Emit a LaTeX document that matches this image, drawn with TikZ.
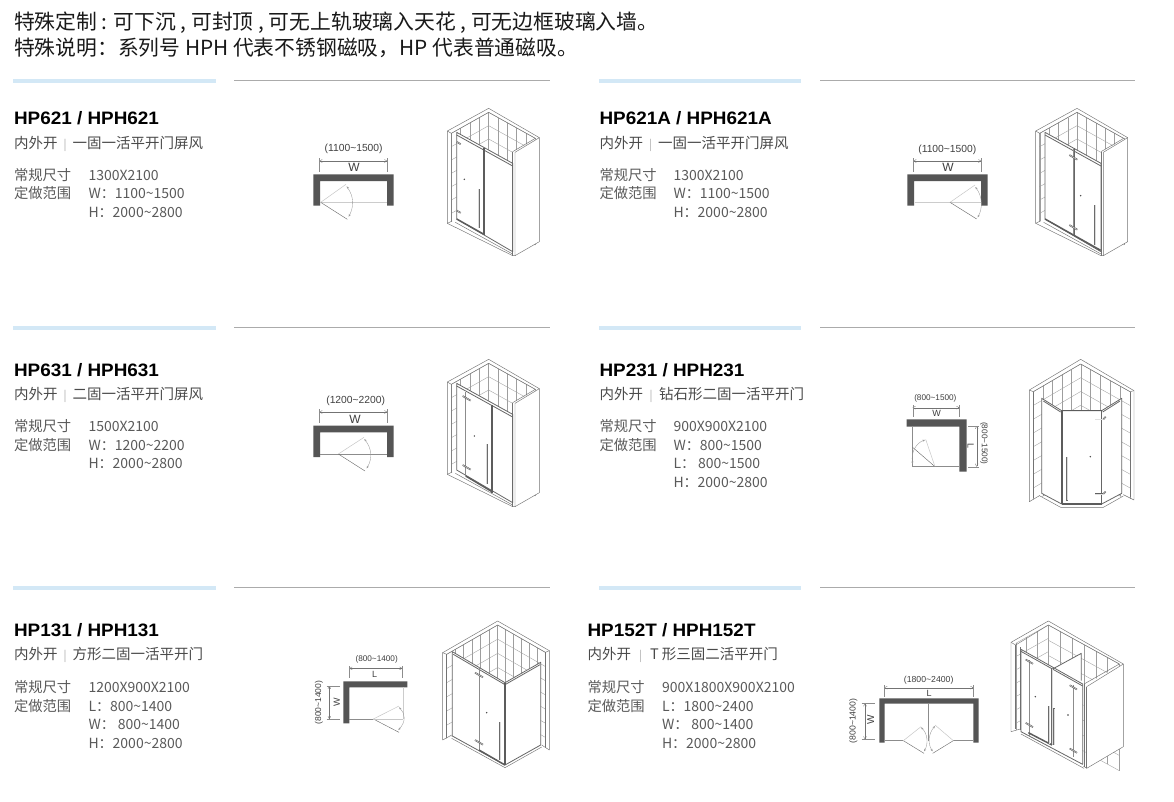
\documentclass[tikz,border=0pt]{standalone}
\usepackage{fontspec}
\usetikzlibrary{calc,arrows.meta}
\setmainfont{Noto Sans CJK SC}
\newfontfamily\latinfont{Liberation Sans}
\newfontfamily\titlefont[FakeStretch=1.05]{Liberation Sans}
\definecolor{barblue}{HTML}{D3E8F6}
\definecolor{rulegray}{HTML}{ABABAB}
\definecolor{wallc}{HTML}{555555}
\definecolor{speccol}{HTML}{5A5A5A}
\definecolor{subcol}{HTML}{4A4A4A}
\definecolor{sepcol}{HTML}{AAAAAA}
\newcommand{\tld}{\textasciitilde}
\tikzset{
 txt/.style={anchor=base west,inner sep=0pt,outer sep=0pt},
 headtxt/.style={txt,font=\fontsize{20.8}{21}\selectfont,text=black!90},
 titletxt/.style={txt,font=\titlefont\bfseries\fontsize{18}{18}\selectfont,text=black},
 subtxt/.style={txt,font=\fontsize{14.5}{14}\selectfont,text=subcol},
 spectxt/.style={txt,font=\fontsize{14.3}{14}\selectfont,text=speccol},
 valtxt/.style={txt,font=\fontsize{14}{14}\selectfont,text=speccol},
 dimtxt/.style={inner sep=0pt,font=\latinfont\fontsize{#1}{#1}\selectfont,text=black!75},
 bluebar/.style={draw=none,fill=barblue},
 grayrule/.style={draw=rulegray,line width=.8pt},
 plan/.style={draw=none,fill=wallc},
 dimln/.style={draw=black!55,line width=.35pt,{To[length=3pt,width=3.2pt]}-{To[length=3pt,width=3.2pt]}},
 tick/.style={draw=black!45,line width=.3pt},
 doorln/.style={draw=black!60,line width=.4pt},
 doorlt/.style={draw=black!22,line width=.5pt},
 glassln/.style={draw=black!20,line width=1pt},
 thinln/.style={draw=black!45,line width=.4pt},
 arcln/.style={draw=black!40,line width=.35pt,{Stealth[length=2.6pt,width=2pt]}-{Stealth[length=2.6pt,width=2pt]}},
 wl/.style={draw=black!55,line width=.45pt,line join=round},
 tl/.style={draw=black!38,line width=.35pt},
 fr/.style={draw=black!60,line width=.8pt,line join=round},
 fk/.style={draw=black!64,line width=1.5pt},
 hollowout/.style={draw=black!62,line width=1.6pt},
 hollowin/.style={draw=black!12,line width=.4pt},
 barout/.style={fill=black!58,draw=none},
 barin/.style={fill=black!14,draw=none},
 glassfill/.style={fill=white,draw=none},
 zoomed/.style={x=.33333pt,y=-.33333pt},
}
\newcommand{\tilegrid}[6]{%
 \foreach \i in {0,...,#5}{\pgfmathsetmacro\tf{\i/#5}\draw[tl] ($#1!\tf!#2$) -- ($#4!\tf!#3$);}%
 \foreach \j in {0,...,#6}{\pgfmathsetmacro\tf{\j/#6}\draw[tl] ($#1!\tf!#4$) -- ($#2!\tf!#3$);}%
}
\newcommand{\hollowseg}[2]{\draw[hollowout] #1 -- #2; \draw[hollowin] #1 -- #2;}
\newcommand{\hingeat}[3]{\hollowseg{($(#1,#2)+(-#3,-.58*#3)$)}{($(#1,#2)+(#3,.58*#3)$)}}
\newcommand{\knob}[2]{\fill[black!75] (#1,#2) circle (.8pt);}
\newcommand{\doorhandle}[3]{%
 \fill[barout] ($(#1,#2)+(-2.6,0)$) rectangle ($(#1,#3)+(2.6,0)$);
 \fill[barin] ($(#1,#2)+(-.7,1)$) rectangle ($(#1,#3)+(.7,-1)$);}
\newcommand{\sepbar}[1]{\makebox[#1pt]{\textcolor{sepcol}{\fontsize{11}{11}\selectfont|}}}
% flat screen room in the frame of the first crop
\newcommand{\screenshell}{%
 \tilegrid{(596,52)}{(484,115)}{(484,435)}{(596,372)}{4}{8}
 \tilegrid{(596,52)}{(736,130)}{(736,450)}{(596,372)}{5}{8}
 \fill[glassfill] (500,112) -- (668,205) -- (668,470) -- (500,372) -- cycle;
 \fill[glassfill] (668,170) -- (748,128) -- (748,440) -- (670,482) -- cycle;
 \fill[glassfill] (472,385) -- (484,380) -- (500,372) -- (668,470) -- (670,500) -- (472,500) -- cycle;
 \draw[wl] (472,108) -- (596,40) -- (748,128) -- (675,172);
 \draw[wl] (484,115) -- (596,52) -- (736,130) -- (668,170);
 \draw[wl] (472,108) -- (484,115) -- (484,380);
 \draw[wl] (472,108) -- (472,385) -- (486,378);
 \draw[wl] (668,170) -- (668,482);
 \draw[wl] (675,172) -- (675,482) -- (748,440) -- (748,128);
 \draw[wl] (472,385) -- (668,482) -- (675,482);
 \draw[wl] (496,382) -- (668,477);
 \draw[fr] (500,112) -- (668,205) -- (668,470) -- (500,372) -- cycle;
 \draw[fr] (500,120) -- (668,213);
}
\begin{document}
\begin{tikzpicture}[x=1pt,y=-1pt]
\useasboundingbox (0,0) rectangle (1174,801);
\fill[white] (0,0) rectangle (1174,801);
% header
\node[headtxt] (h1) at (14,29) {特殊定制 : 可下沉 , 可封顶 , 可无上轨玻璃入天花 , 可无边框玻璃入墙。};
\node[headtxt] (h2) at (14,55) {特殊说明：系列号 HPH 代表不锈钢磁吸，HP 代表普通磁吸。};
% rules
\foreach \xa/\xb/\xc/\xd/\ya in {13/216/234/550/81,599/801/820/1135/81,13/216/234/550/328,599/801/820/1135/328,13/216/234/550/588,599/801/820/1135/588}{
 \fill[bluebar] (\xa,\ya-1.8) rectangle (\xb,\ya+1.8);
 \draw[grayrule] (\xc,\ya-.6) -- (\xd,\ya-.6);
}
% ---------- texts
\node[titletxt] (t1) at (14,124) {HP621 / HPH621};
\node[subtxt] (s1) at (14,148) {内外开\sepbar{15}一固一活平开门屏风};
\node[spectxt] (a1) at (14,180) {常规尺寸};
\node[spectxt] (b1) at (14,198) {定做范围};
\node[valtxt] (c1) at (88.5,180) {1300X2100};
\node[valtxt] (d1) at (88.5,198) {W：1100\tld 1500};
\node[valtxt] (e1) at (88.5,217) {H：2000\tld 2800};

\node[titletxt] (t2) at (599.5,124) {HP621A / HPH621A};
\node[subtxt] (s2) at (599.5,148) {内外开\sepbar{15}一固一活平开门屏风};
\node[spectxt] (a2) at (599.5,180) {常规尺寸};
\node[spectxt] (b2) at (599.5,198) {定做范围};
\node[valtxt] (c2) at (673.5,180) {1300X2100};
\node[valtxt] (d2) at (673.5,198) {W：1100\tld 1500};
\node[valtxt] (e2) at (673.5,217) {H：2000\tld 2800};

\node[titletxt] (t3) at (14,376) {HP631 / HPH631};
\node[subtxt] (s3) at (14,399) {内外开\sepbar{15}二固一活平开门屏风};
\node[spectxt] (a3) at (14,431) {常规尺寸};
\node[spectxt] (b3) at (14,450) {定做范围};
\node[valtxt] (c3) at (88.5,431) {1500X2100};
\node[valtxt] (d3) at (88.5,450) {W：1200\tld 2200};
\node[valtxt] (e3) at (88.5,468) {H：2000\tld 2800};

\node[titletxt] (t4) at (599.5,376) {HP231 / HPH231};
\node[subtxt] (s4) at (599.5,399) {内外开\sepbar{16}钻石形二固一活平开门};
\node[spectxt] (a4) at (599.5,431) {常规尺寸};
\node[spectxt] (b4) at (599.5,450) {定做范围};
\node[valtxt] (c4) at (673.5,431) {900X900X2100};
\node[valtxt] (d4) at (673.5,450) {W：800\tld 1500};
\node[valtxt] (e4) at (673.5,468) {L：\hspace{3pt}800\tld 1500};
\node[valtxt] (f4) at (673.5,487) {H：2000\tld 2800};

\node[titletxt] (t5) at (14,636.5) {HP131 / HPH131};
\node[subtxt] (s5) at (14,659) {内外开\sepbar{15}方形二固一活平开门};
\node[spectxt] (a5) at (14,692) {常规尺寸};
\node[spectxt] (b5) at (14,711) {定做范围};
\node[valtxt] (c5) at (88.5,692) {1200X900X2100};
\node[valtxt] (d5) at (88.5,711) {L：800\tld 1400};
\node[valtxt] (e5) at (88.5,729) {W：\hspace{3pt}800\tld 1400};
\node[valtxt] (f5) at (88.5,748) {H：2000\tld 2800};

\node[titletxt] (t6) at (587.5,636.5) {HP152T / HPH152T};
\node[subtxt] (s6) at (587.5,659) {内外开\sepbar{19}T 形三固二活平开门};
\node[spectxt] (a6) at (587.5,692) {常规尺寸};
\node[spectxt] (b6) at (587.5,711) {定做范围};
\node[valtxt] (c6) at (662,692) {900X1800X900X2100};
\node[valtxt] (d6) at (662,711) {L：1800\tld 2400};
\node[valtxt] (e6) at (662,729) {W：\hspace{3pt}800\tld 1400};
\node[valtxt] (f6) at (662,748) {H：2000\tld 2800};

% ---------- HP621
\begin{scope}[shift={(290pt,-95pt)},zoomed]
 \fill[plan] (70,238) -- (311,238) -- (311,332) -- (291,332) -- (291,258) -- (90,258) -- (90,332) -- (70,332) -- cycle;
 \draw[glassln] (92,322) -- (291,322);
 \draw[doorln] (92,322) -- (172,373);
 \draw[doorlt] (92,322) -- (168,268);
 \draw[arcln] (170,274) .. controls (192,305) and (192,335) .. (176,365);
 \draw[dimln] (88,198) -- (292,198);
 \draw[tick] (88,190) -- (88,232); \draw[tick] (292,190) -- (292,232);
 \node[dimtxt=10.3] (p1d) at (191,161) {(1100\tld 1500)};
 \node[dimtxt=12] (p1w) at (192,218) {W};
 \screenshell
 \draw[fk] (582,160) -- (582,420);
 \draw[fk] (500,372) -- (582,418);
 \doorhandle{566}{282}{400}
 \knob{523}{253}
 \hingeat{506}{144}{6} \hingeat{506}{350}{6}
\end{scope}
% ---------- HP621A
\begin{scope}[shift={(890pt,-95pt)},zoomed]
 \fill[plan] (52,238) -- (293,238) -- (293,332) -- (273,332) -- (273,258) -- (72,258) -- (72,332) -- (52,332) -- cycle;
 \draw[glassln] (74,322) -- (272,322);
 \draw[doorln] (180,322) -- (260,372);
 \draw[doorlt] (180,322) -- (255,270);
 \draw[arcln] (256,276) .. controls (278,305) and (278,340) .. (263,367);
 \draw[dimln] (70,198) -- (274,198);
 \draw[tick] (70,190) -- (70,232); \draw[tick] (274,190) -- (274,232);
 \node[dimtxt=10.3] (p2d) at (172,163) {(1100\tld 1500)};
 \node[dimtxt=12] (p2w) at (174,218) {W};
 \begin{scope}[shift={(-35,0)}]
  \screenshell
 \end{scope}
 \draw[fk] (465,372) -- (632,466);
 \draw[thinln] (551,160) -- (551,418);
 \draw[fr] (554,160) -- (554,420);
 \doorhandle{616}{330}{450}
 \knob{572}{302}
 \hingeat{550}{187}{12} \hingeat{550}{397}{12}
\end{scope}
% ---------- HP631
\begin{scope}[shift={(290pt,-350pt)},zoomed]
 \fill[plan] (70,227) -- (311,227) -- (311,321) -- (291,321) -- (291,247) -- (90,247) -- (90,321) -- (70,321) -- cycle;
 \draw[thinln] (90,312) -- (291,312);
 \draw[doorln] (145,312) -- (225,363);
 \draw[doorlt] (145,312) -- (222,262);
 \draw[arcln] (223,267) .. controls (245,295) and (248,325) .. (230,355);
 \draw[dimln] (88,186) -- (292,186);
 \draw[tick] (88,178) -- (88,220); \draw[tick] (292,178) -- (292,220);
 \node[dimtxt=10.3] (p3d) at (197,151) {(1200\tld 2200)};
 \node[dimtxt=12] (p3w) at (195,207) {W};
 \begin{scope}[shift={(0,-12)}]
  \screenshell
 \end{scope}
 \draw[thinln] (527,127) -- (527,378);
 \draw[fk] (606,165) -- (606,428);
 \draw[fk] (527,378) -- (606,425);
 \doorhandle{590}{282}{403}
 \knob{553}{258}
 \hingeat{530}{145}{12} \hingeat{530}{352}{12}
\end{scope}
% ---------- HP231
\begin{scope}[shift={(890pt,-350pt)},zoomed]
 \fill[plan] (50,208) -- (230,208) -- (230,365) -- (208,365) -- (208,230) -- (50,230) -- cycle;
 \draw[thinln] (68,230) -- (68,350) -- (208,350);
 \draw[doorln] (135,350) -- (68,292);
 \draw[doorlt] (135,350) -- (107,268);
 \draw[arcln] (105,270) .. controls (80,278) and (62,305) .. (68,342);
 \draw[dimln] (68,173) -- (208,173);
 \draw[tick] (68,165) -- (68,200); \draw[tick] (208,165) -- (208,200);
 \draw[dimln] (260,228) -- (260,350);
 \draw[tick] (235,228) -- (268,228); \draw[tick] (235,350) -- (268,350);
 \node[dimtxt=8.2] (p4d) at (136,145) {(800\tld 1500)};
 \node[dimtxt=9] (p4w) at (140,190) {W};
 \node[dimtxt=9,rotate=-90] (p4l) at (242,288) {L};
 \node[dimtxt=8.2,rotate=-90] (p4e) at (282,280) {(800\tld 1500)};
 \tilegrid{(572,42)}{(430,125)}{(430,455)}{(572,372)}{5}{8}
 \tilegrid{(572,42)}{(720,125)}{(720,455)}{(572,372)}{5}{8}
 \fill[glassfill] (455,145) -- (515,182) -- (635,182) -- (695,145) -- (695,430) -- (635,462) -- (515,462) -- (455,430) -- cycle;
 \fill[glassfill] (418,455) -- (450,438) -- (512,472) -- (640,472) -- (700,438) -- (732,452) -- (732,500) -- (418,500) -- cycle;
 \draw[wl] (418,120) -- (572,28) -- (732,122) -- (732,450) -- (700,434);
 \draw[wl] (418,120) -- (430,125) -- (572,42) -- (720,125) -- (732,122);
 \draw[wl] (430,125) -- (430,445); \draw[wl] (720,125) -- (720,442);
 \draw[wl] (418,120) -- (418,455) -- (450,436);
 \draw[wl] (450,438) -- (512,472) -- (640,472) -- (700,438);
 \draw[fr] (455,145) -- (515,182) -- (635,182) -- (695,145) -- (695,430) -- (635,462) -- (515,462) -- (455,430) -- cycle;
 \draw[fr] (460,153) -- (512,186); \draw[fr] (690,153) -- (638,186);
 \draw[fr] (635,182) -- (635,462);
 \draw[fk,line width=2pt] (515,182) -- (515,462);
 \draw[fk] (515,182) -- (635,182);
 \draw[fk] (515,462) -- (635,462);
 \doorhandle{532}{320}{452}
 \knob{601}{320}
 \hollowseg{(616,208)}{(640,208)} \hollowseg{(640,208)}{(647,200)}
 \hollowseg{(616,432)}{(640,432)} \hollowseg{(640,432)}{(647,425)}
\end{scope}
% ---------- HP131
\begin{scope}[shift={(300pt,-610pt)},zoomed]
 \fill[plan] (130,214) -- (322,214) -- (322,232) -- (148,232) -- (148,340) -- (130,340) -- cycle;
 \draw[thinln] (148,327) -- (220,327);
 \draw[glassln] (310,232) -- (310,327);
 \draw[doorln] (220,327) -- (297,367);
 \draw[doorlt] (220,327) -- (297,288);
 \draw[doorlt] (220,327) -- (310,327);
 \draw[arcln] (297,292) .. controls (316,310) and (318,335) .. (295,360);
 \draw[dimln] (148,175) -- (307,175);
 \draw[tick] (148,168) -- (148,205); \draw[tick] (307,168) -- (307,205);
 \draw[dimln] (88,228) -- (88,327);
 \draw[tick] (80,228) -- (120,228); \draw[tick] (80,327) -- (120,327);
 \node[dimtxt=8.2] (p5d) at (230,148) {(800\tld 1400)};
 \node[dimtxt=9] (p5l) at (224,194) {L};
 \node[dimtxt=9,rotate=90] (p5w) at (110,277) {W};
 \node[dimtxt=8.5,rotate=90] (p5e) at (57,278) {(800\tld 1400)};
 \tilegrid{(593,45)}{(440,133)}{(440,473)}{(593,385)}{6}{8}
 \tilegrid{(593,45)}{(736,127)}{(736,467)}{(593,385)}{6}{8}
 \fill[glassfill] (457,125) -- (615,218) -- (722,157) -- (722,405) -- (615,465) -- (457,378) -- cycle;
 \fill[glassfill] (428,390) -- (457,378) -- (615,465) -- (722,405) -- (748,420) -- (748,490) -- (428,490) -- cycle;
 \draw[wl] (428,128) -- (593,33) -- (748,122) -- (748,420) -- (725,405);
 \draw[wl] (428,128) -- (440,133) -- (593,45) -- (736,127) -- (748,122);
 \draw[wl] (440,133) -- (440,384); \draw[wl] (736,127) -- (736,412);
 \draw[wl] (428,128) -- (428,390) -- (455,375);
 \draw[wl] (455,385) -- (615,473) -- (725,411);
 \draw[fr] (457,125) -- (615,218) -- (722,157) -- (722,405) -- (615,465) -- (457,378) -- cycle;
 \draw[fr] (460,133) -- (615,224) -- (720,164);
 \draw[fk] (615,218) -- (615,465);
 \draw[thinln] (537,172) -- (537,420);
 \draw[fk] (537,420) -- (615,465);
 \doorhandle{601}{335}{450}
 \knob{560}{308}
 \hingeat{537}{195}{12} \hingeat{537}{397}{12}
\end{scope}
% ---------- HP152T
\begin{scope}[shift={(840pt,-610pt)},zoomed]
 \fill[plan] (118,265) -- (416,265) -- (416,398) -- (400,398) -- (400,281) -- (134,281) -- (134,398) -- (118,398) -- cycle;
 \draw[dimln] (133,233) -- (400,233);
 \draw[tick] (133,225) -- (133,262); \draw[tick] (400,225) -- (400,262);
 \draw[thinln] (265,281) -- (265,392);
 \draw[thinln] (134,392) -- (190,392); \draw[thinln] (340,392) -- (400,392);
 \draw[doorln] (190,392) -- (252,430);
 \draw[doorln] (340,392) -- (278,430);
 \draw[doorlt] (190,392) -- (243,350);
 \draw[doorlt] (340,392) -- (285,345);
 \draw[arcln] (243,352) .. controls (262,370) and (266,400) .. (252,424);
 \draw[arcln] (285,348) .. controls (266,370) and (262,400) .. (278,424);
 \draw[dimln] (75,280) -- (75,388);
 \draw[tick] (65,280) -- (105,280); \draw[tick] (65,388) -- (105,388);
 \node[dimtxt=8.7] (p6d) at (266,212) {(1800\tld 2400)};
 \node[dimtxt=9] (p6l) at (267,250) {L};
 \node[dimtxt=10,rotate=90] (p6w) at (92,328) {W};
 \node[dimtxt=8.7,rotate=90] (p6e) at (40,333) {(800\tld 1400)};
 \tilegrid{(625,45)}{(527,100)}{(527,420)}{(625,365)}{3}{8}
 \tilegrid{(625,45)}{(838,162)}{(838,482)}{(625,365)}{6}{7}
 \fill[glassfill] (543,118) -- (728,222) -- (728,463) -- (543,365) -- cycle;
 \fill[glassfill] (728,228) -- (850,162) -- (850,410) -- (740,475) -- cycle;
 \fill[glassfill] (513,365) -- (541,357) -- (728,463) -- (740,490) -- (513,490) -- cycle;
 \fill[glassfill] (636,178) -- (724,130) -- (724,220) -- cycle;
 \draw[wl] (513,97) -- (625,33) -- (850,162) -- (850,410) -- (740,475) -- (730,468);
 \draw[wl] (513,97) -- (527,105) -- (625,45) -- (838,162) -- (732,222);
 \draw[wl] (527,105) -- (527,358); \draw[wl] (541,112) -- (541,360);
 \draw[wl] (513,97) -- (513,365) -- (541,357);
 \draw[wl] (740,230) -- (850,162);
 \draw[wl] (732,222) -- (732,470); \draw[wl] (740,230) -- (740,475);
 \draw[wl] (543,372) -- (732,475);
 \draw[fr] (543,118) -- (728,222) -- (728,463) -- (543,365) -- cycle;
 \draw[fr] (543,124) -- (728,228);
 \draw[fr] (636,178) -- (724,130) -- (724,212);
 \doorhandle{636}{176}{406}
 \draw[thinln] (568,150) -- (568,380);
 \draw[thinln] (700,225) -- (700,440);
 \draw[fk] (565,368) -- (636,405);
 \doorhandle{628}{287}{403} \doorhandle{643}{295}{405}
 \knob{586}{260} \knob{684}{315}
 \hingeat{568}{155}{11} \hingeat{568}{345}{11}
 \hingeat{700}{232}{11} \hingeat{700}{422}{11}
\end{scope}
\end{tikzpicture}
\end{document}
